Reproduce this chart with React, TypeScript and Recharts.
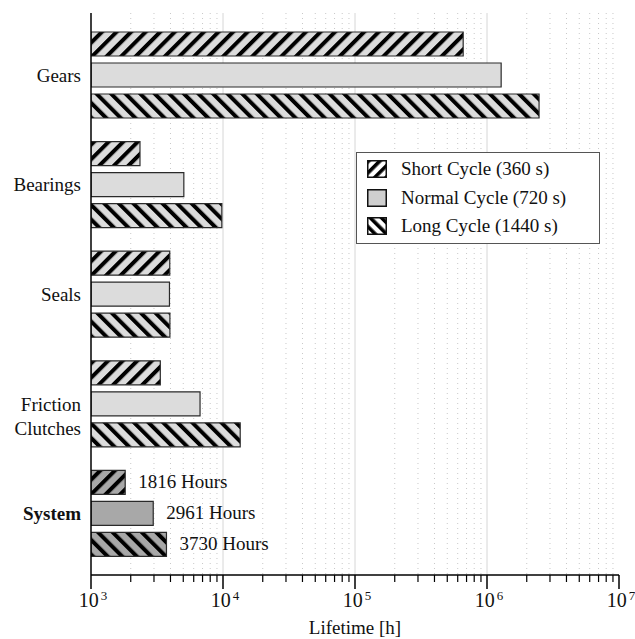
// Component lifetime per duty cycle, log-scale horizontal bars with hatching

import { BarChart, Bar, XAxis, YAxis, CartesianGrid, Cell, LabelList, Legend } from 'recharts';

const components = ['Gears', 'Bearings', 'Seals', 'Friction Clutches', 'System'];
const shortCycle = [660000, 2350, 3950, 3350, 1816];
const normalCycle = [1280000, 5050, 3930, 6700, 2961];
const longCycle = [2480000, 9800, 3960, 13500, 3730];

const seriesNames = ['Short Cycle (360 s)', 'Normal Cycle (720 s)', 'Long Cycle (1440 s)'];
const majorTicks = [1e3, 1e4, 1e5, 1e6, 1e7];
const minorSteps = [2, 3, 4, 5, 6, 7, 8, 9];

const minorTicks = majorTicks.slice(0, -1).flatMap(m => minorSteps.map(s => m * s));
const allTicks = [...majorTicks, ...minorTicks].sort((a, b) => a - b);

const data = components.map((name, i) => ({
  name,
  short: shortCycle[i],
  normal: normalCycle[i],
  long: longCycle[i],
}));

const FONT = "'Liberation Serif', 'Times New Roman', serif";
const LIGHT = '#dcdcdc';
const DARK = '#a8a8a8';
const EDGE = '#2a2a2a';
const txt = { fontFamily: FONT, fill: '#111' };

function LogTick({ x, y, payload }: any) {
  const v = payload.value as number;
  const exp = Math.round(Math.log10(v));
  const major = Math.abs(Math.log10(v) - exp) < 1e-9;
  return (
    <g>
      <line x1={x} y1={y} x2={x} y2={y + (major ? 14 : 7)} stroke="#000" strokeWidth={major ? 1.5 : 1.2} />
      {major && (
        <text x={x + 2} y={y + 32} textAnchor="middle" style={{ ...txt, fontSize: 20 }}>
          10
          <tspan dx={2} dy={-7} style={{ fontSize: 13 }}>{exp}</tspan>
        </text>
      )}
    </g>
  );
}

function CategoryTick({ x, y, payload }: any) {
  const label = payload.value as string;
  const lines = label.split(' ');
  const bold = label === 'System';
  return (
    <text x={x} y={y + 7} textAnchor="end" style={{ ...txt, fontSize: 19, fontWeight: bold ? 'bold' : 'normal' }}>
      {lines.map((ln, i) => (
        <tspan key={ln} x={x} dy={i === 0 ? 0 : 24}>{ln}</tspan>
      ))}
    </text>
  );
}

function renderHours(props: any) {
  const { x, y, width, height, value, index } = props;
  if (components[index] !== 'System') return null;
  return (
    <text x={x + width + 13} y={y + height / 2 + 6} style={{ ...txt, fontSize: 19 }}>
      {value} Hours
    </text>
  );
}

const swatchFills = ['url(#legFwd)', '#cfcfcf', 'url(#legBack)'];

function ChartLegend() {
  return (
    <div
      style={{
        border: '1px solid #555',
        background: '#fff',
        padding: '2px 0 2px 10px',
        fontFamily: FONT,
        fontSize: 19,
        color: '#111',
        boxSizing: 'border-box',
        width: 244,
      }}
    >
      {seriesNames.map((n, i) => (
        <div key={n} style={{ display: 'flex', alignItems: 'center', height: 28.5 }}>
          <svg width={20} height={18} style={{ marginRight: 14 }}>
            <rect x={0.75} y={0.75} width={18.5} height={16.5} fill={swatchFills[i]} stroke="#111" strokeWidth={1.5} />
          </svg>
          <span>{n}</span>
        </div>
      ))}
    </div>
  );
}

export default function App() {
  return (
    <div style={{ position: 'absolute', left: 0, top: 0, width: 635, height: 639, background: '#fff', fontFamily: FONT }}>
      <BarChart
        width={635}
        height={639}
        data={data}
        layout="vertical"
        barSize={24}
        barGap={7}
        margin={{ top: 13, right: 16, left: 0, bottom: 0 }}
        style={{ fontFamily: FONT }}
      >
        <defs>
          <pattern id="hatchFwd" patternUnits="userSpaceOnUse" width={10.3} height={10.3} patternTransform="rotate(45)">
            <rect width={10.3} height={10.3} fill={LIGHT} />
            <rect width={4} height={10.3} fill="#000" />
          </pattern>
          <pattern id="hatchBack" patternUnits="userSpaceOnUse" width={10.3} height={10.3} patternTransform="rotate(-45)">
            <rect width={10.3} height={10.3} fill={LIGHT} />
            <rect width={4} height={10.3} fill="#000" />
          </pattern>
          <pattern id="hatchFwdDark" patternUnits="userSpaceOnUse" width={10.3} height={10.3} patternTransform="rotate(45)">
            <rect width={10.3} height={10.3} fill={DARK} />
            <rect width={4} height={10.3} fill="#000" />
          </pattern>
          <pattern id="hatchBackDark" patternUnits="userSpaceOnUse" width={10.3} height={10.3} patternTransform="rotate(-45)">
            <rect width={10.3} height={10.3} fill={DARK} />
            <rect width={4} height={10.3} fill="#000" />
          </pattern>
          <pattern id="legFwd" patternUnits="userSpaceOnUse" width={8} height={8} patternTransform="rotate(45)">
            <rect width={8} height={8} fill="#fff" />
            <rect width={3.6} height={8} fill="#000" />
          </pattern>
          <pattern id="legBack" patternUnits="userSpaceOnUse" width={8} height={8} patternTransform="rotate(-45)">
            <rect width={8} height={8} fill="#fff" />
            <rect width={3.6} height={8} fill="#000" />
          </pattern>
        </defs>
        <CartesianGrid horizontal={false} verticalValues={minorTicks} stroke="#c8c8c8" strokeDasharray="1 4" />
        <CartesianGrid horizontal={false} verticalValues={[1e4, 1e5, 1e6]} stroke="#d6d6d6" strokeWidth={1} />
        <XAxis
          type="number"
          scale="log"
          domain={[1e3, 1e7]}
          allowDataOverflow
          ticks={allTicks}
          interval={0}
          tickLine={false}
          tickSize={0}
          tickMargin={0}
          axisLine={{ stroke: '#000', strokeWidth: 1.5 }}
          tick={<LogTick />}
          height={64}
          label={{
            content: ({ viewBox }: any) => (
              <text x={viewBox.x + viewBox.width / 2} y={634} textAnchor="middle" style={{ ...txt, fontSize: 19 }}>
                Lifetime [h]
              </text>
            ),
          }}
        />
        <XAxis
          xAxisId="top"
          orientation="top"
          type="number"
          scale="log"
          domain={[1e3, 1e7]}
          allowDataOverflow
          height={0}
          tick={false}
          tickLine={false}
          axisLine={{ stroke: '#000', strokeWidth: 1.5 }}
        />
        <YAxis
          type="category"
          dataKey="name"
          width={91}
          padding={{ top: 7, bottom: 7 }}
          tickLine={false}
          tickSize={0}
          tickMargin={10}
          interval={0}
          axisLine={{ stroke: '#000', strokeWidth: 1.5 }}
          tick={<CategoryTick />}
        />
        <YAxis
          yAxisId="right"
          orientation="right"
          type="category"
          dataKey="name"
          width={0}
          tick={false}
          tickLine={false}
          axisLine={{ stroke: '#000', strokeWidth: 1.5 }}
        />
        <Legend
          layout="vertical"
          align="center"
          verticalAlign="middle"
          wrapperStyle={{ position: 'absolute', left: 356, top: 152, width: 244 }}
          content={<ChartLegend />}
        />
        <Bar dataKey="short" name={seriesNames[0]} stroke={EDGE} strokeWidth={1.2} isAnimationActive={false}>
          {components.map(c => (
            <Cell key={c} fill={c === 'System' ? 'url(#hatchFwdDark)' : 'url(#hatchFwd)'} />
          ))}
          <LabelList dataKey="short" content={renderHours} />
        </Bar>
        <Bar dataKey="normal" name={seriesNames[1]} stroke={EDGE} strokeWidth={1.2} isAnimationActive={false}>
          {components.map(c => (
            <Cell key={c} fill={c === 'System' ? DARK : LIGHT} />
          ))}
          <LabelList dataKey="normal" content={renderHours} />
        </Bar>
        <Bar dataKey="long" name={seriesNames[2]} stroke={EDGE} strokeWidth={1.2} isAnimationActive={false}>
          {components.map(c => (
            <Cell key={c} fill={c === 'System' ? 'url(#hatchBackDark)' : 'url(#hatchBack)'} />
          ))}
          <LabelList dataKey="long" content={renderHours} />
        </Bar>
      </BarChart>
    </div>
  );
}
